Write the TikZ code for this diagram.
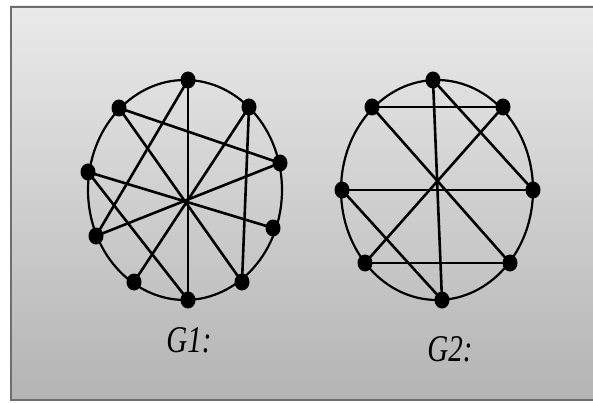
\documentclass[tikz,border=0pt]{standalone}
\usepackage{fontspec}
\setmainfont{Liberation Serif}
\usetikzlibrary{shapes.geometric}
\begin{document}
\begin{tikzpicture}[x=1pt,y=-1pt,
  vtx/.style={ellipse,fill=black,inner sep=0pt,minimum width=15pt,minimum height=17pt},
  edge/.style={line width=2.6pt,black},
  rim/.style={line width=2.2pt,black},
  lab/.style={font=\fontsize{29}{30}\selectfont\itshape,inner sep=0pt,anchor=base}]
\useasboundingbox (0,0) rectangle (593,403);
\fill[white] (0,0) rectangle (593,403);
\shade[top color={rgb,255:red,234;green,234;blue,234},bottom color={rgb,255:red,180;green,180;blue,180}]
  (10,6) rectangle (600,400);
\draw[line width=1.6pt,color={rgb,255:red,110;green,110;blue,110}] (10.8,6.8) rectangle (600,400);
% G1
\draw[rim] (185,190) ellipse [x radius=97, y radius=110];
\node[vtx] (A) at (188,80) {};
\node[vtx] (B) at (119,108) {};
\node[vtx] (C) at (249,107) {};
\node[vtx] (D) at (280,163) {};
\node[vtx] (E) at (88,172) {};
\node[vtx] (F) at (273,228) {};
\node[vtx] (G) at (96,236) {};
\node[vtx] (H) at (134,282) {};
\node[vtx] (I) at (242,282) {};
\node[vtx] (J) at (188,300) {};
\draw[edge] (A.center)--(J.center);
\draw[edge] (A.center)--(G.center);
\draw[edge] (B.center)--(D.center);
\draw[edge] (B.center)--(I.center);
\draw[edge] (C.center)--(H.center);
\draw[edge] (C.center)--(I.center);
\draw[edge] (D.center)--(G.center);
\draw[edge] (E.center)--(F.center);
\draw[edge] (E.center)--(J.center);
% G2
\draw[rim] (437,190) ellipse [x radius=96, y radius=110];
\node[vtx] (a) at (433,80) {};
\node[vtx] (b) at (372,107) {};
\node[vtx] (c) at (503,107) {};
\node[vtx] (d) at (342,190) {};
\node[vtx] (e) at (533,190) {};
\node[vtx] (f) at (365,263) {};
\node[vtx] (g) at (510,263) {};
\node[vtx] (h) at (442,300) {};
\draw[edge] (b.center)--(c.center);
\draw[edge] (a.center)--(h.center);
\draw[edge] (a.center)--(e.center);
\draw[edge] (b.center)--(g.center);
\draw[edge] (c.center)--(f.center);
\draw[edge] (d.center)--(e.center);
\draw[edge] (d.center)--(h.center);
\draw[edge] (f.center)--(g.center);
% labels
\node[lab] (l1) at (189,352) {\scalebox{1}[1.3]{G1:}};
\node[lab] (l2) at (450,361) {\scalebox{1}[1.3]{G2:}};
\end{tikzpicture}
\end{document}
